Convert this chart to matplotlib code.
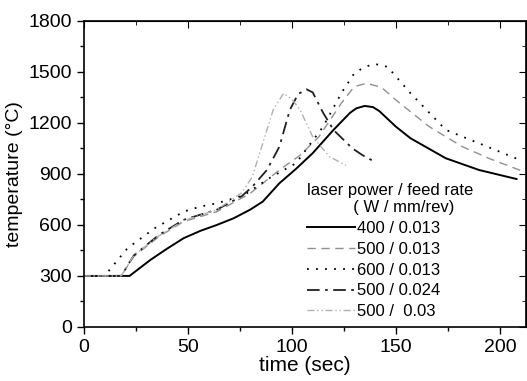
import matplotlib.pyplot as plt
from matplotlib.ticker import MultipleLocator

plt.rcParams['font.family'] = ['Liberation Sans', 'DejaVu Sans']

# 400 W / 0.013 mm/rev
t_400 = [0, 19, 22, 32, 40, 48, 56, 64, 72, 80, 86, 94, 102, 110, 120, 128, 131, 135, 139, 142, 150, 157, 174, 190, 208]
T_400 = [300, 300, 300, 394, 460, 522, 565, 600, 639, 690, 737, 845, 930, 1022, 1159, 1260, 1286, 1300, 1293, 1270, 1178, 1110, 992, 923, 870]

# 500 W / 0.013 mm/rev
t_500 = [0, 18, 24, 36, 48, 64, 80, 94, 104, 113, 124, 130, 136, 143, 150, 166, 182, 195, 210]
T_500 = [300, 300, 414, 530, 620, 678, 786, 923, 1010, 1119, 1320, 1414, 1433, 1410, 1335, 1178, 1060, 990, 920]

# 600 W / 0.013 mm/rev
t_600 = [0, 10, 21, 34, 48, 56, 64, 77, 89, 102, 115, 124, 130, 135, 140, 146, 157, 174, 190, 208]
T_600 = [300, 300, 463, 580, 678, 708, 727, 775, 874, 963, 1178, 1380, 1492, 1530, 1547, 1530, 1375, 1159, 1080, 990]

# 500 W / 0.024 mm/rev
t_024 = [0, 18, 24, 36, 48, 64, 76, 81, 88, 94, 99, 103, 107, 110, 115, 120, 129, 134, 140]
T_024 = [300, 300, 420, 540, 630, 690, 770, 825, 923, 1060, 1276, 1370, 1398, 1380, 1260, 1159, 1051, 1010, 970]

# 500 W / 0.03 mm/rev
t_030 = [0, 18, 24, 36, 48, 64, 76, 81, 86, 91, 96, 100, 104, 110, 118, 126]
T_030 = [300, 300, 420, 535, 625, 690, 790, 884, 1080, 1276, 1374, 1340, 1276, 1119, 1002, 950]

labels = ['400 / 0.013', '500 / 0.013', '600 / 0.013', '500 / 0.024', '500 /  0.03']

fig = plt.figure(figsize=(5.27, 3.81), dpi=100)
ax = fig.add_axes([0.159, 0.142, 0.839, 0.803])

ax.plot(t_400, T_400, color='black', lw=1.4, ls='-', label=labels[0])
ax.plot(t_500, T_500, color='#909090', lw=1.0, ls=(0, (6, 4)), label=labels[1])
ax.plot(t_600, T_600, color='black', lw=1.3, ls=(0, (1, 4)), label=labels[2])
ax.plot(t_024, T_024, color='#202020', lw=1.3, ls=(0, (7, 3, 1.5, 3)), label=labels[3])
ax.plot(t_030, T_030, color='#b0b0b0', lw=1.0, ls=(0, (5, 2, 1, 2, 1, 2)), label=labels[4])

ax.set_xlim(0, 212.5)
ax.set_ylim(0, 1800)
ax.xaxis.set_major_locator(MultipleLocator(50))
ax.xaxis.set_minor_locator(MultipleLocator(25))
ax.yaxis.set_major_locator(MultipleLocator(300))
ax.yaxis.set_minor_locator(MultipleLocator(150))
ax.tick_params(which='both', direction='out', labelsize=14, width=1)
ax.tick_params(which='major', length=5)
ax.tick_params(which='minor', length=3)
for s in ax.spines.values():
    s.set_linewidth(1.2)

# inward ticks on top and right, no labels
top = ax.secondary_xaxis('top')
top.xaxis.set_major_locator(MultipleLocator(50))
top.xaxis.set_minor_locator(MultipleLocator(25))
top.tick_params(which='both', direction='in', labeltop=False)
top.tick_params(which='major', length=5)
top.tick_params(which='minor', length=3)
right = ax.secondary_yaxis('right')
right.yaxis.set_major_locator(MultipleLocator(300))
right.yaxis.set_minor_locator(MultipleLocator(150))
right.tick_params(which='both', direction='in', labelright=False)
right.tick_params(which='major', length=5)
right.tick_params(which='minor', length=3)

ax.set_xlabel('time (sec)', fontsize=15, labelpad=0)
ax.set_ylabel('temperature (°C)', fontsize=14, labelpad=4)

leg = ax.legend(loc='lower left', bbox_to_anchor=(0.47, -0.024), frameon=False,
                fontsize=12, handlelength=2.9, handletextpad=0.15,
                labelspacing=0.35, borderpad=0.4,
                title='laser power / feed rate\n          ( W / mm/rev)', title_fontsize=12)
leg._legend_box.align = 'left'

fig.savefig('out.png', dpi=100)
